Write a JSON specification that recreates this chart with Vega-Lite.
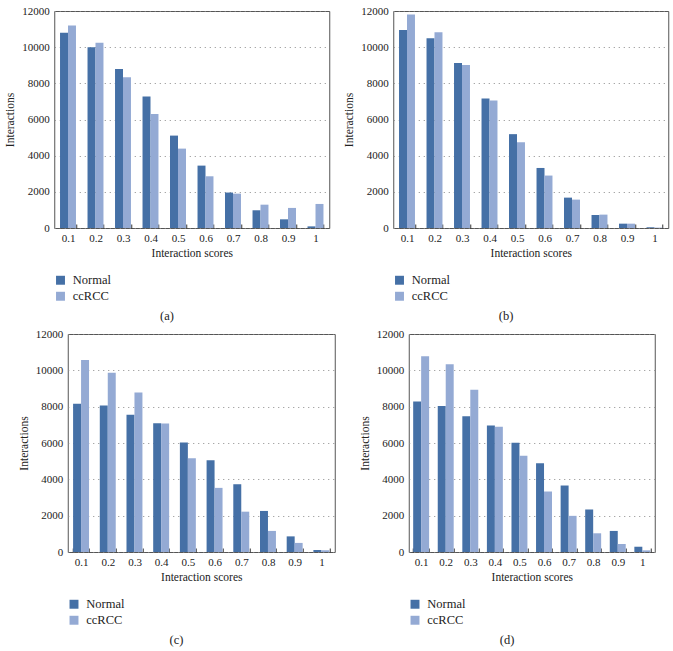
{
  "$schema": "https://vega.github.io/schema/vega-lite/v6.json",
  "padding": {"left": 4, "top": 4, "right": 4, "bottom": 5},
  "background": "white",
  "config": {
    "font": "Liberation Serif",
    "view": {"stroke": "#555555", "strokeWidth": 1},
    "axis": {"labelFont": "Liberation Serif", "titleFont": "Liberation Serif", "labelFontSize": 11, "titleFontSize": 11.5, "titleFontWeight": "normal", "labelColor": "#222222", "titleColor": "#222222", "domain": false},
    "axisY": {"grid": true, "gridDash": [1, 4], "gridColor": "#8a8a8a", "ticks": false, "labelPadding": 5, "titlePadding": 6},
    "axisX": {"grid": false, "tickBand": "extent", "tickSize": -4, "tickColor": "#333333", "labelPadding": 8, "labelAngle": 0, "titlePadding": 4},
    "legend": {"labelFont": "Liberation Serif", "labelFontSize": 12.5, "labelColor": "#222222", "symbolType": "square", "symbolSize": 80, "symbolStrokeWidth": 0, "rowPadding": 3, "offset": 15, "labelOffset": 6, "padding": 0},
    "title": {"font": "Liberation Serif", "fontSize": 12.5, "fontWeight": "normal", "color": "#222222", "offset": 7}
  },
  "datasets": {
    "a": [
      {"score": "0.1", "group": "Normal", "value": 10800}, {"score": "0.1", "group": "ccRCC", "value": 11200},
      {"score": "0.2", "group": "Normal", "value": 10000}, {"score": "0.2", "group": "ccRCC", "value": 10250},
      {"score": "0.3", "group": "Normal", "value": 8790}, {"score": "0.3", "group": "ccRCC", "value": 8340},
      {"score": "0.4", "group": "Normal", "value": 7270}, {"score": "0.4", "group": "ccRCC", "value": 6300},
      {"score": "0.5", "group": "Normal", "value": 5110}, {"score": "0.5", "group": "ccRCC", "value": 4390},
      {"score": "0.6", "group": "Normal", "value": 3450}, {"score": "0.6", "group": "ccRCC", "value": 2860},
      {"score": "0.7", "group": "Normal", "value": 1960}, {"score": "0.7", "group": "ccRCC", "value": 1900},
      {"score": "0.8", "group": "Normal", "value": 980}, {"score": "0.8", "group": "ccRCC", "value": 1290},
      {"score": "0.9", "group": "Normal", "value": 480}, {"score": "0.9", "group": "ccRCC", "value": 1110},
      {"score": "1", "group": "Normal", "value": 90}, {"score": "1", "group": "ccRCC", "value": 1330}
    ],
    "b": [
      {"score": "0.1", "group": "Normal", "value": 10950}, {"score": "0.1", "group": "ccRCC", "value": 11810},
      {"score": "0.2", "group": "Normal", "value": 10490}, {"score": "0.2", "group": "ccRCC", "value": 10820},
      {"score": "0.3", "group": "Normal", "value": 9120}, {"score": "0.3", "group": "ccRCC", "value": 9010},
      {"score": "0.4", "group": "Normal", "value": 7160}, {"score": "0.4", "group": "ccRCC", "value": 7050},
      {"score": "0.5", "group": "Normal", "value": 5190}, {"score": "0.5", "group": "ccRCC", "value": 4740},
      {"score": "0.6", "group": "Normal", "value": 3320}, {"score": "0.6", "group": "ccRCC", "value": 2900},
      {"score": "0.7", "group": "Normal", "value": 1680}, {"score": "0.7", "group": "ccRCC", "value": 1570},
      {"score": "0.8", "group": "Normal", "value": 720}, {"score": "0.8", "group": "ccRCC", "value": 740},
      {"score": "0.9", "group": "Normal", "value": 240}, {"score": "0.9", "group": "ccRCC", "value": 240},
      {"score": "1", "group": "Normal", "value": 40}, {"score": "1", "group": "ccRCC", "value": 20}
    ],
    "c": [
      {"score": "0.1", "group": "Normal", "value": 8160}, {"score": "0.1", "group": "ccRCC", "value": 10570},
      {"score": "0.2", "group": "Normal", "value": 8070}, {"score": "0.2", "group": "ccRCC", "value": 9870},
      {"score": "0.3", "group": "Normal", "value": 7550}, {"score": "0.3", "group": "ccRCC", "value": 8780},
      {"score": "0.4", "group": "Normal", "value": 7090}, {"score": "0.4", "group": "ccRCC", "value": 7070},
      {"score": "0.5", "group": "Normal", "value": 6030}, {"score": "0.5", "group": "ccRCC", "value": 5160},
      {"score": "0.6", "group": "Normal", "value": 5050}, {"score": "0.6", "group": "ccRCC", "value": 3530},
      {"score": "0.7", "group": "Normal", "value": 3730}, {"score": "0.7", "group": "ccRCC", "value": 2220},
      {"score": "0.8", "group": "Normal", "value": 2260}, {"score": "0.8", "group": "ccRCC", "value": 1160},
      {"score": "0.9", "group": "Normal", "value": 860}, {"score": "0.9", "group": "ccRCC", "value": 500},
      {"score": "1", "group": "Normal", "value": 110}, {"score": "1", "group": "ccRCC", "value": 90}
    ],
    "d": [
      {"score": "0.1", "group": "Normal", "value": 8280}, {"score": "0.1", "group": "ccRCC", "value": 10770},
      {"score": "0.2", "group": "Normal", "value": 8040}, {"score": "0.2", "group": "ccRCC", "value": 10340},
      {"score": "0.3", "group": "Normal", "value": 7470}, {"score": "0.3", "group": "ccRCC", "value": 8930},
      {"score": "0.4", "group": "Normal", "value": 6960}, {"score": "0.4", "group": "ccRCC", "value": 6900},
      {"score": "0.5", "group": "Normal", "value": 6020}, {"score": "0.5", "group": "ccRCC", "value": 5300},
      {"score": "0.6", "group": "Normal", "value": 4880}, {"score": "0.6", "group": "ccRCC", "value": 3330},
      {"score": "0.7", "group": "Normal", "value": 3660}, {"score": "0.7", "group": "ccRCC", "value": 1990},
      {"score": "0.8", "group": "Normal", "value": 2340}, {"score": "0.8", "group": "ccRCC", "value": 1030},
      {"score": "0.9", "group": "Normal", "value": 1160}, {"score": "0.9", "group": "ccRCC", "value": 440},
      {"score": "1", "group": "Normal", "value": 290}, {"score": "1", "group": "ccRCC", "value": 90}
    ]
  },
  "center": true,
  "spacing": 4,
  "resolve": {"scale": {"color": "independent"}, "legend": {"color": "independent"}},
  "vconcat": [
    {
      "spacing": 13,
      "resolve": {"scale": {"color": "independent"}, "legend": {"color": "independent"}},
      "hconcat": [
        {
          "data": {"name": "a"},
          "width": 275, "height": 217,
          "title": {"text": "(a)", "orient": "bottom", "anchor": "middle", "frame": "bounds"},
          "mark": {"type": "bar"},
          "encoding": {
            "x": {"field": "score", "type": "ordinal", "sort": null, "title": "Interaction scores", "scale": {"paddingInner": 0.42, "paddingOuter": 0.21}},
            "xOffset": {"field": "group", "type": "nominal", "sort": ["Normal", "ccRCC"], "scale": {"paddingInner": 0, "paddingOuter": 0}},
            "y": {"field": "value", "type": "quantitative", "title": "Interactions", "scale": {"domain": [0, 12000]}, "axis": {"values": [0, 2000, 4000, 6000, 8000, 10000, 12000], "format": "d"}},
            "color": {"field": "group", "type": "nominal", "sort": ["Normal", "ccRCC"], "scale": {"domain": ["Normal", "ccRCC"], "range": ["#4570a6", "#94aad4"]}, "legend": {"title": null, "orient": "bottom", "direction": "vertical"}}
          }
        },
        {
          "data": {"name": "b"},
          "width": 275, "height": 217,
          "title": {"text": "(b)", "orient": "bottom", "anchor": "middle", "frame": "bounds"},
          "mark": {"type": "bar"},
          "encoding": {
            "x": {"field": "score", "type": "ordinal", "sort": null, "title": "Interaction scores", "scale": {"paddingInner": 0.42, "paddingOuter": 0.21}},
            "xOffset": {"field": "group", "type": "nominal", "sort": ["Normal", "ccRCC"], "scale": {"paddingInner": 0, "paddingOuter": 0}},
            "y": {"field": "value", "type": "quantitative", "title": "Interactions", "scale": {"domain": [0, 12000]}, "axis": {"values": [0, 2000, 4000, 6000, 8000, 10000, 12000], "format": "d"}},
            "color": {"field": "group", "type": "nominal", "sort": ["Normal", "ccRCC"], "scale": {"domain": ["Normal", "ccRCC"], "range": ["#4570a6", "#94aad4"]}, "legend": {"title": null, "orient": "bottom", "direction": "vertical"}}
          }
        }
      ]
    },
    {
      "spacing": 23,
      "resolve": {"scale": {"color": "independent"}, "legend": {"color": "independent"}},
      "hconcat": [
        {
          "data": {"name": "c"},
          "width": 267, "height": 218,
          "title": {"text": "(c)", "orient": "bottom", "anchor": "middle", "frame": "bounds"},
          "mark": {"type": "bar"},
          "encoding": {
            "x": {"field": "score", "type": "ordinal", "sort": null, "title": "Interaction scores", "scale": {"paddingInner": 0.4, "paddingOuter": 0.2}},
            "xOffset": {"field": "group", "type": "nominal", "sort": ["Normal", "ccRCC"], "scale": {"paddingInner": 0, "paddingOuter": 0}},
            "y": {"field": "value", "type": "quantitative", "title": "Interactions", "scale": {"domain": [0, 12000]}, "axis": {"values": [0, 2000, 4000, 6000, 8000, 10000, 12000], "format": "d"}},
            "color": {"field": "group", "type": "nominal", "sort": ["Normal", "ccRCC"], "scale": {"domain": ["Normal", "ccRCC"], "range": ["#4570a6", "#94aad4"]}, "legend": {"title": null, "orient": "bottom", "direction": "vertical"}}
          }
        },
        {
          "data": {"name": "d"},
          "width": 246, "height": 218,
          "title": {"text": "(d)", "orient": "bottom", "anchor": "middle", "frame": "bounds"},
          "mark": {"type": "bar"},
          "encoding": {
            "x": {"field": "score", "type": "ordinal", "sort": null, "title": "Interaction scores", "scale": {"paddingInner": 0.35, "paddingOuter": 0.18}},
            "xOffset": {"field": "group", "type": "nominal", "sort": ["Normal", "ccRCC"], "scale": {"paddingInner": 0, "paddingOuter": 0}},
            "y": {"field": "value", "type": "quantitative", "title": "Interactions", "scale": {"domain": [0, 12000]}, "axis": {"values": [0, 2000, 4000, 6000, 8000, 10000, 12000], "format": "d"}},
            "color": {"field": "group", "type": "nominal", "sort": ["Normal", "ccRCC"], "scale": {"domain": ["Normal", "ccRCC"], "range": ["#4570a6", "#94aad4"]}, "legend": {"title": null, "orient": "bottom", "direction": "vertical"}}
          }
        }
      ]
    }
  ]
}
